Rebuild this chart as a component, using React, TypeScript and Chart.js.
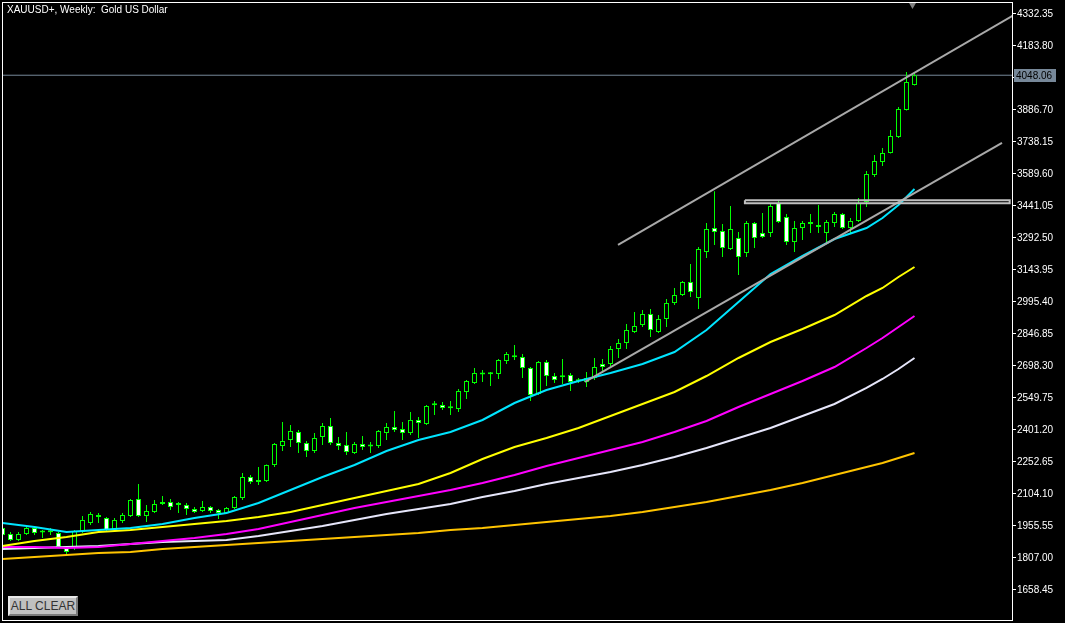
import React, { useEffect, useRef } from "react";
import { Chart, registerables } from "chart.js";

Chart.register(...registerables);

const SYMBOL_TITLE = "XAUUSD+, Weekly:  Gold US Dollar";
const BUTTON_LABEL = "ALL CLEAR";

// Weekly OHLC, one entry per week (index 0 = oldest visible week)
const opens = [
  1946.2, 1918.4, 1890.5, 1918.4, 1946.2, 1928.0, 1926.0, 1923.0, 1853.4, 1858.1,
  1927.6, 1969.4, 2006.6, 1992.6, 1936.9, 1978.7, 2001.9, 2080.8, 2001.9, 2020.5,
  2057.6, 2066.9, 2053.0, 2053.0, 2034.4, 2025.1, 2043.7, 2029.8, 2015.8, 2039.1,
  2085.5, 2183.0, 2169.0, 2164.4, 2238.7, 2326.9, 2354.7, 2391.9, 2340.8, 2303.7,
  2368.7, 2419.7, 2340.8, 2331.5, 2294.4, 2336.2, 2325.0, 2326.9, 2387.2, 2415.1,
  2405.8, 2387.2, 2447.6, 2429.0, 2516.0, 2517.2, 2502.0, 2498.6, 2577.6, 2619.3,
  2659.0, 2661.0, 2661.1, 2721.5, 2739.0, 2740.0, 2689.0, 2568.3, 2716.8, 2651.8,
  2646.0, 2656.5, 2627.0, 2624.0, 2642.5, 2707.5, 2707.5, 2777.2, 2805.0, 2856.1,
  2888.6, 2939.6, 2856.1, 2916.4, 2990.7, 3027.9, 3088.2, 3013.9, 3227.5, 3338.9,
  3324.9, 3241.4, 3292.5, 3222.8, 3362.1, 3315.7, 3315.7, 3454.9, 3389.9, 3273.9,
  3338.9, 3366.7, 3352.8, 3315.7, 3362.1, 3403.9, 3338.9, 3371.4, 3459.6, 3584.9,
  3645.3, 3687.0, 3761.3, 3886.7, 4002.7,
];
const highs = [
  1950.8, 1927.6, 1927.6, 1950.8, 1950.8, 1936.9, 1946.2, 1927.6, 1862.7, 1936.9,
  2001.9, 2020.5, 2015.8, 1997.3, 1992.6, 2015.8, 2080.8, 2150.5, 2053.0, 2076.2,
  2094.8, 2080.8, 2066.9, 2062.3, 2043.7, 2071.6, 2048.3, 2034.4, 2043.7, 2094.8,
  2201.5, 2192.3, 2229.4, 2241.0, 2340.8, 2438.3, 2424.4, 2401.2, 2350.1, 2387.2,
  2433.6, 2456.9, 2368.7, 2391.9, 2345.4, 2373.3, 2345.4, 2401.2, 2433.6, 2489.3,
  2438.3, 2484.7, 2461.5, 2517.2, 2535.8, 2531.1, 2535.8, 2591.5, 2633.3, 2689.0,
  2679.7, 2670.4, 2730.7, 2763.2, 2795.7, 2754.0, 2693.6, 2721.5, 2726.1, 2665.8,
  2730.7, 2665.8, 2642.5, 2670.4, 2735.4, 2730.7, 2791.1, 2823.6, 2893.2, 2948.9,
  2958.2, 2962.9, 2935.0, 3009.3, 3060.3, 3092.8, 3171.8, 3250.7, 3362.1, 3510.0,
  3357.4, 3441.0, 3320.3, 3371.4, 3366.7, 3408.5, 3454.9, 3464.2, 3403.9, 3371.4,
  3371.4, 3403.9, 3445.6, 3376.0, 3413.2, 3408.5, 3385.3, 3478.1, 3603.5, 3677.8,
  3710.3, 3793.8, 3900.6, 4063.1, 4063.1,
];
const lows = [
  1909.1, 1885.9, 1885.9, 1913.7, 1913.7, 1899.8, 1913.7, 1853.4, 1820.9, 1844.1,
  1923.0, 1960.1, 1969.4, 1932.3, 1932.3, 1969.4, 1997.3, 1997.3, 1974.1, 2015.8,
  2053.0, 2029.8, 2015.8, 2006.6, 2015.8, 2020.5, 2015.8, 1988.0, 2011.2, 2034.4,
  2076.2, 2150.5, 2145.8, 2159.8, 2229.4, 2303.7, 2322.2, 2294.4, 2275.8, 2294.4,
  2331.5, 2331.5, 2308.3, 2285.1, 2289.7, 2308.3, 2294.4, 2317.6, 2354.7, 2391.9,
  2354.7, 2377.9, 2364.0, 2424.4, 2470.8, 2494.0, 2470.8, 2484.7, 2545.1, 2614.7,
  2624.0, 2605.4, 2637.9, 2707.5, 2726.1, 2642.5, 2535.8, 2563.6, 2605.4, 2619.3,
  2614.7, 2582.2, 2619.3, 2600.8, 2633.3, 2665.8, 2698.2, 2735.4, 2777.2, 2851.4,
  2879.3, 2832.9, 2852.0, 2879.3, 2981.4, 3023.2, 3018.6, 2962.9, 3199.6, 3260.0,
  3204.3, 3236.7, 3120.7, 3204.3, 3246.0, 3292.5, 3297.1, 3362.1, 3260.0, 3227.5,
  3283.2, 3315.7, 3315.7, 3269.2, 3343.5, 3334.2, 3315.7, 3366.7, 3436.4, 3575.6,
  3626.7, 3685.0, 3756.7, 3884.0, 4000.0,
];
const closes = [
  1913.7, 1890.5, 1918.4, 1946.2, 1923.0, 1925.0, 1929.0, 1858.1, 1834.8, 1932.3,
  1983.3, 2011.2, 1997.3, 1936.9, 1983.3, 2006.6, 2076.2, 2001.9, 2025.1, 2057.6,
  2066.9, 2043.7, 2054.0, 2034.4, 2020.5, 2043.7, 2025.1, 2015.8, 2039.1, 2090.1,
  2183.0, 2159.8, 2159.8, 2238.7, 2336.2, 2350.1, 2396.5, 2340.8, 2303.7, 2364.0,
  2419.7, 2340.8, 2326.9, 2299.0, 2336.2, 2322.2, 2328.0, 2396.5, 2415.1, 2401.2,
  2387.2, 2447.6, 2433.6, 2512.6, 2519.0, 2503.3, 2505.0, 2582.2, 2628.6, 2665.8,
  2662.0, 2660.0, 2726.1, 2754.0, 2741.0, 2689.0, 2563.6, 2716.8, 2651.8, 2633.3,
  2648.0, 2624.0, 2630.0, 2642.5, 2693.6, 2693.6, 2777.2, 2805.0, 2865.4, 2883.9,
  2939.6, 2865.4, 2916.4, 2990.7, 3027.9, 3088.2, 3041.8, 3241.4, 3334.2, 3320.3,
  3246.0, 3334.2, 3204.3, 3362.1, 3292.5, 3297.1, 3441.0, 3366.7, 3273.9, 3338.9,
  3362.1, 3357.4, 3343.5, 3366.7, 3403.9, 3338.9, 3371.4, 3454.9, 3589.6, 3649.9,
  3687.0, 3766.0, 3891.3, 4016.6, 4048.06,
];

// Moving averages sampled at these week indices
const maWeeks = [
  0, 4, 8, 12, 16, 20, 24, 28, 32, 36, 40, 44, 48, 52, 56, 60, 64, 68, 72, 76,
  80, 84, 88, 92, 96, 100, 104, 108, 110, 112, 114,
];
const maCyan = [
  1969.5, 1950.9, 1927.6, 1936.9, 1946.2, 1964.8, 1992.6, 2015.8, 2062.3, 2122.6,
  2183.0, 2238.7, 2303.7, 2354.7, 2391.9, 2447.6, 2526.5, 2586.8, 2628.6, 2665.8,
  2707.5, 2763.2, 2865.4, 2995.4, 3125.3, 3208.9, 3287.8, 3338.9, 3385.3, 3445.6,
  3519.9,
];
const maYellow = [
  1862.7, 1885.9, 1904.4, 1927.6, 1936.9, 1950.9, 1964.8, 1978.7, 1997.3, 2020.5,
  2053.0, 2085.5, 2118.0, 2150.5, 2201.5, 2266.5, 2322.2, 2364.0, 2410.4, 2466.2,
  2521.9, 2577.6, 2651.8, 2735.4, 2809.7, 2870.0, 2935.0, 3023.2, 3060.3, 3111.4,
  3157.8,
];
const maMagenta = [
  1858.1, 1858.1, 1853.4, 1858.1, 1872.0, 1885.9, 1899.8, 1918.4, 1941.6, 1974.1,
  2006.6, 2039.1, 2066.9, 2094.8, 2122.6, 2155.1, 2192.3, 2234.0, 2271.2, 2308.3,
  2345.4, 2391.9, 2442.9, 2507.9, 2568.3, 2628.6, 2693.6, 2781.8, 2828.2, 2879.3,
  2930.4,
];
const maWhite = [
  1848.7, 1853.4, 1858.1, 1862.7, 1872.0, 1881.3, 1885.9, 1890.5, 1909.1, 1932.3,
  1955.5, 1983.3, 2011.2, 2034.4, 2057.6, 2090.1, 2118.0, 2150.5, 2178.3, 2206.2,
  2238.7, 2275.8, 2317.6, 2364.0, 2410.4, 2466.2, 2521.9, 2596.2, 2637.9, 2684.3,
  2735.4,
];
const maGold = [
  1802.3, 1811.6, 1820.9, 1830.2, 1834.8, 1848.7, 1858.1, 1867.4, 1876.7, 1885.9,
  1895.2, 1904.4, 1913.7, 1923.0, 1936.9, 1946.2, 1960.1, 1974.1, 1988.0, 2001.9,
  2020.5, 2043.7, 2066.9, 2094.8, 2122.6, 2155.1, 2192.3, 2229.4, 2248.0, 2271.2,
  2294.4,
];

// Price axis labels
const priceTicks = [
  4332.35, 4183.8, 4035.25, 3886.7, 3738.15, 3589.6, 3441.05, 3292.5, 3143.95,
  2995.4, 2846.85, 2698.3, 2549.75, 2401.2, 2252.65, 2104.1, 1955.55, 1807.0, 1658.45,
];
const bidPrice = 4048.06;

// Drawn objects: channel lines (week, price) and a thin resistance zone
const upperChannelWeeks = [76.94, 127];
const upperChannelPrices = [3260.0, 4340.2];
const lowerChannelWeeks = [72.81, 124.94];
const lowerChannelPrices = [2624.0, 3733.5];
const zoneWeeks = [92.8, 125.9];
const zonePrices = [3467.9, 3454.0];
const shiftMarkerWeek = 113.75;
const shiftMarkerPrice = 4374.0;

const X_MIN = -0.0625;
const X_MAX = 126.1875;
const Y_MIN = 1519.1;
const Y_MAX = 4388.0;

const weeks = opens.map((_, i) => i);

const framePlugin = {
  id: "mtFrame",
  afterDraw(chart: any) {
    const { ctx, chartArea: a, scales } = chart;
    ctx.save();
    ctx.strokeStyle = "#ffffff";
    ctx.lineWidth = 1;
    ctx.strokeRect(a.left + 0.5, a.top + 0.5, a.right - a.left, a.bottom - a.top);
    const y = Math.round(scales.y.getPixelForValue(bidPrice));
    ctx.fillStyle = "#778899";
    ctx.fillRect(a.right + 2, y - 6, 42, 13);
    ctx.fillStyle = "#000000";
    ctx.font = '10px "Liberation Sans"';
    ctx.textBaseline = "middle";
    ctx.textAlign = "left";
    ctx.fillText(bidPrice.toFixed(2), a.right + 4, y + 1);
    ctx.restore();
  },
};

function maSeries(values: number[]) {
  return maWeeks.map((w, i) => ({ x: w, y: values[i] }));
}

function lineDs(data: any[], color: string, width: number, order: number) {
  return {
    type: "line" as const,
    data,
    borderColor: color,
    backgroundColor: color,
    borderWidth: width,
    pointRadius: 0,
    tension: 0,
    fill: false,
    order,
  };
}

export default function App() {
  const ref = useRef<HTMLCanvasElement>(null);

  useEffect(() => {
    if (!ref.current) return;
    const wickData = weeks.map((i) => ({ x: i, y: [lows[i], highs[i]] }));
    const bodyData = weeks.map((i) => ({ x: i, y: [opens[i], closes[i]] }));
    const bodyFill = weeks.map((i) => (closes[i] >= opens[i] ? "#000000" : "#ffffff"));

    const chart = new Chart(ref.current, {
      type: "bar",
      data: {
        datasets: [
          {
            type: "scatter",
            data: [{ x: shiftMarkerWeek, y: shiftMarkerPrice }],
            pointStyle: "triangle",
            rotation: 180,
            pointRadius: 4,
            backgroundColor: "#808080",
            borderColor: "#808080",
            borderWidth: 0,
            clip: false,
            order: 0,
          } as any,
          lineDs(
            [
              { x: zoneWeeks[0], y: zonePrices[0] },
              { x: zoneWeeks[1], y: zonePrices[0] },
              { x: zoneWeeks[1], y: zonePrices[1] },
              { x: zoneWeeks[0], y: zonePrices[1] },
              { x: zoneWeeks[0], y: zonePrices[0] },
            ],
            "#c0c0c0",
            2,
            1
          ),
          lineDs(
            upperChannelWeeks.map((w, i) => ({ x: w, y: upperChannelPrices[i] })),
            "#a9a9a9",
            2,
            1
          ),
          lineDs(
            lowerChannelWeeks.map((w, i) => ({ x: w, y: lowerChannelPrices[i] })),
            "#a9a9a9",
            2,
            1
          ),
          lineDs(maSeries(maCyan), "#00e5ff", 2, 2),
          lineDs(maSeries(maYellow), "#ffff00", 2, 3),
          lineDs(maSeries(maMagenta), "#ff00ff", 2, 4),
          lineDs(maSeries(maWhite), "#e6e6fa", 2, 5),
          lineDs(maSeries(maGold), "#ffc400", 2, 6),
          {
            type: "bar",
            data: bodyData,
            backgroundColor: bodyFill,
            borderColor: "#00ff00",
            borderWidth: 1,
            borderSkipped: false,
            barThickness: 5,
            grouped: false,
            minBarLength: 2,
            inflateAmount: 0,
            order: 7,
          } as any,
          {
            type: "bar",
            data: wickData,
            backgroundColor: "#00ff00",
            borderWidth: 0,
            barThickness: 1,
            grouped: false,
            inflateAmount: 0,
            order: 8,
          } as any,
          lineDs(
            [
              { x: X_MIN, y: bidPrice },
              { x: X_MAX, y: bidPrice },
            ],
            "#778899",
            1,
            9
          ),
        ],
      },
      options: {
        responsive: false,
        animation: false,
        events: [],
        layout: { autoPadding: false, padding: { left: 2, top: 2, right: 0, bottom: 3 } },
        plugins: {
          legend: { display: false },
          tooltip: { enabled: false },
          title: { display: false },
        },
        scales: {
          x: {
            type: "linear",
            min: X_MIN,
            max: X_MAX,
            display: false,
            offset: false,
          },
          y: {
            type: "linear",
            position: "right",
            min: Y_MIN,
            max: Y_MAX,
            afterFit: (s: any) => {
              s.width = 53;
              s.paddingTop = 0;
              s.paddingBottom = 0;
            },
            afterBuildTicks: (s: any) => {
              s.ticks = priceTicks.map((v) => ({ value: v }));
            },
            ticks: {
              color: "#ffffff",
              font: { family: "Liberation Sans", size: 10 },
              padding: 1,
              autoSkip: false,
              callback: (v: any) => Number(v).toFixed(2),
            },
            grid: {
              drawOnChartArea: false,
              drawTicks: true,
              tickLength: 4,
              color: "#ffffff",
            },
            border: { display: true, color: "#ffffff" },
          },
        },
      },
      plugins: [framePlugin],
    } as any);

    return () => {
      chart.destroy();
    };
  }, []);

  return (
    <div
      style={{
        position: "absolute",
        left: 0,
        top: 0,
        width: 1065,
        height: 623,
        background: "#000000",
        overflow: "hidden",
      }}
    >
      <canvas ref={ref} width={1065} height={623} style={{ display: "block" }} />
      <div
        style={{
          position: "absolute",
          left: 7,
          top: 4,
          color: "#ffffff",
          font: '10px "Liberation Sans"',
          whiteSpace: "pre",
          lineHeight: "12px",
        }}
      >
        {SYMBOL_TITLE}
      </div>
      <div
        style={{
          position: "absolute",
          left: 8,
          top: 596,
          width: 70,
          height: 20,
          boxSizing: "border-box",
          background: "#c0c0c0",
          borderTop: "2px solid #e8e8e8",
          borderLeft: "2px solid #e8e8e8",
          borderRight: "2px solid #7a7a7a",
          borderBottom: "2px solid #7a7a7a",
          color: "#333333",
          font: '12px "Liberation Sans"',
          display: "flex",
          alignItems: "center",
          justifyContent: "center",
        }}
      >
        {BUTTON_LABEL}
      </div>
    </div>
  );
}
